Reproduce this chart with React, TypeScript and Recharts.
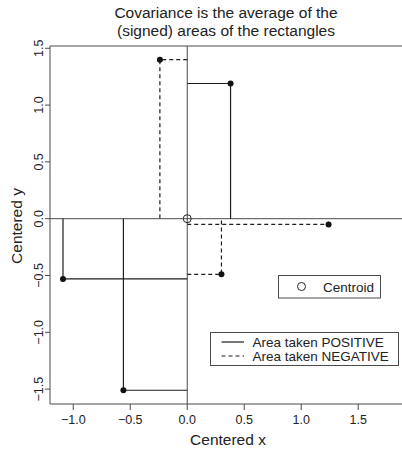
import React from "react";
import { ComposedChart, Line, Scatter, XAxis, YAxis, ReferenceLine } from "recharts";

const pointX = [0.38, -0.24, 1.24, 0.3, -1.09, -0.56];
const pointY = [1.19, 1.4, -0.05, -0.49, -0.53, -1.51];
const centroidX = [0];
const centroidY = [0];
const xTicks = [-1, -0.5, 0, 0.5, 1, 1.5];
const yTicks = [-1.5, -1, -0.5, 0, 0.5, 1, 1.5];
const xDomain = [-1.204, 1.884];
const yDomain = [-1.631, 1.52];
const titleLines = ["Covariance is the average of the", "(signed) areas of the rectangles"];
const xLabel = "Centered x";
const yLabel = "Centered y";
const legendCentroid = "Centroid";
const legendPositive = "Area taken POSITIVE";
const legendNegative = "Area taken NEGATIVE";

const FONT = "'Liberation Sans', Arial, Helvetica, sans-serif";
const LINE = "#1e1e1e";
const AXIS = "#4a4a4a";

const fmt = (v: number) => {
  const s = Math.abs(v).toFixed(1);
  return v < 0 ? "\u2212" + s : s;
};

const points = pointX.map((x, i) => ({ x, y: pointY[i] }));
const centroid = centroidX.map((x, i) => ({ x, y: centroidY[i] }));
const rects = points.map((p) => ({
  negative: p.x * p.y < 0,
  data: [
    { x: centroid[0].x, y: p.y },
    { x: p.x, y: p.y },
    { x: p.x, y: centroid[0].y },
  ],
}));

const YTick = (props: any) => {
  const { x, y, payload } = props;
  return (
    <text
      x={x}
      y={y}
      transform={`rotate(-90, ${x}, ${y})`}
      textAnchor="middle"
      fontSize={12.5}
      fontFamily={FONT}
      fill="#222"
    >
      {fmt(payload.value)}
    </text>
  );
};

const Dot = (props: any) => <circle cx={props.cx} cy={props.cy} r={3} fill="#111" />;
const OpenDot = (props: any) => (
  <circle cx={props.cx} cy={props.cy} r={4} fill="none" stroke="#222" strokeWidth={1} />
);

export default function App() {
  return (
    <div style={{ position: "absolute", left: 0, top: 0, width: 402, height: 450, background: "#fff" }}>
      <ComposedChart width={402} height={450} margin={{ top: 46, right: 0, bottom: 0, left: 0 }}>
        <XAxis
          type="number"
          dataKey="x"
          domain={xDomain}
          ticks={xTicks}
          allowDataOverflow
          height={46}
          tickSize={6}
          tickMargin={5}
          tickFormatter={fmt}
          stroke={AXIS}
          tick={{ fill: "#222", fontSize: 12.5, fontFamily: FONT }}
          interval={0}
        />
        <YAxis
          type="number"
          dataKey="y"
          domain={yDomain}
          ticks={yTicks}
          allowDataOverflow
          width={50}
          tickSize={5}
          tickMargin={2}
          stroke={AXIS}
          tick={<YTick />}
          interval={0}
        />
        <ReferenceLine y={yDomain[1]} stroke={AXIS} strokeWidth={1} />
        <ReferenceLine x={0} stroke={AXIS} strokeWidth={1} />
        <ReferenceLine y={0} stroke={AXIS} strokeWidth={1} />
        {rects.map((r, i) => (
          <Line
            key={i}
            data={r.data}
            dataKey="y"
            type="linear"
            stroke={LINE}
            strokeWidth={1.2}
            strokeDasharray={r.negative ? "4 3" : undefined}
            dot={false}
            activeDot={false}
            isAnimationActive={false}
          />
        ))}
        <Scatter data={points} dataKey="y" shape={<Dot />} isAnimationActive={false} />
        <Scatter data={centroid} dataKey="y" shape={<OpenDot />} isAnimationActive={false} />
      </ComposedChart>
      <svg
        width={402}
        height={450}
        style={{ position: "absolute", left: 0, top: 0, pointerEvents: "none" }}
        fontFamily={FONT}
      >
        <text x={226} y={18} textAnchor="middle" fontSize={15.5} fill="#222">
          {titleLines[0]}
        </text>
        <text x={226} y={35.5} textAnchor="middle" fontSize={15.5} fill="#222">
          {titleLines[1]}
        </text>
        <text x={228} y={445} textAnchor="middle" fontSize={15.5} fill="#222">
          {xLabel}
        </text>
        <text
          x={22}
          y={226}
          textAnchor="middle"
          fontSize={15.5}
          fill="#222"
          transform="rotate(-90, 22, 226)"
        >
          {yLabel}
        </text>
        <rect x={278.5} y={275.5} width={102} height={22.5} fill="#fff" stroke={AXIS} strokeWidth={1} />
        <circle cx={301.5} cy={286.5} r={4} fill="none" stroke="#222" strokeWidth={1} />
        <text x={323} y={291.5} fontSize={13.5} fill="#222">
          {legendCentroid}
        </text>
        <rect x={210.5} y={332.5} width={188} height={33} fill="#fff" stroke={AXIS} strokeWidth={1} />
        <line x1={221.5} x2={244} y1={342} y2={342} stroke={LINE} strokeWidth={1.2} />
        <line x1={221.5} x2={244} y1={356} y2={356} stroke={LINE} strokeWidth={1.2} strokeDasharray="4 3" />
        <text x={252.5} y={347} fontSize={13.5} fill="#222">
          {legendPositive}
        </text>
        <text x={252.5} y={361} fontSize={13.5} fill="#222">
          {legendNegative}
        </text>
      </svg>
    </div>
  );
}
